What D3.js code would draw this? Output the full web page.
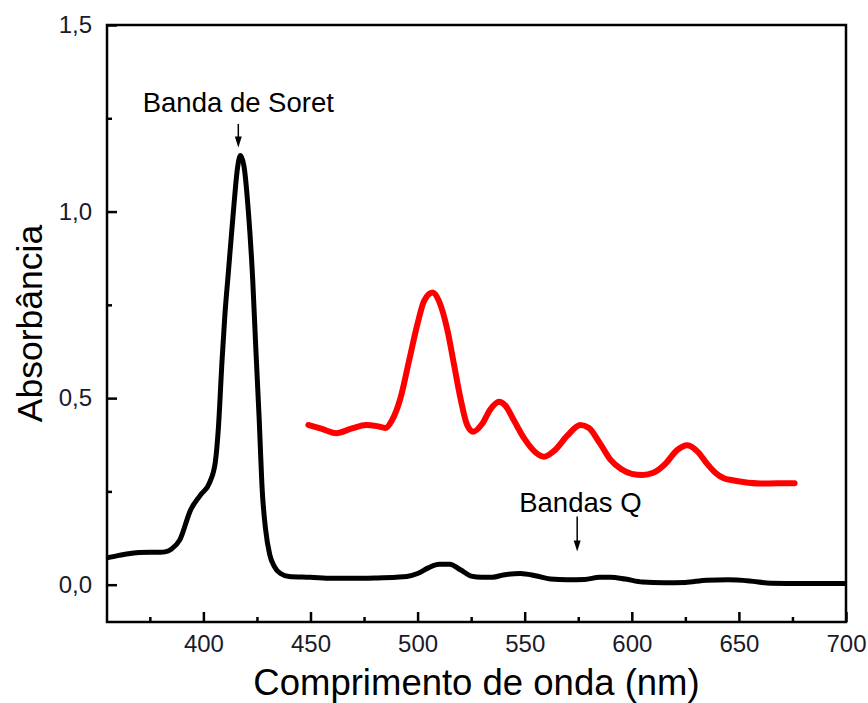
<!DOCTYPE html>
<html>
<head>
<meta charset="utf-8">
<script src="https://cdn.jsdelivr.net/npm/d3@7"></script>
<style>
  body { margin: 0; background: #fff; }
  svg { font-family: Arial, "Liberation Sans", sans-serif; }
</style>
</head>
<body>
<svg id="chart"></svg>
<script>
const width = 868;
const height = 703;

// Black spectrum (nm, absorbance)
const blackNm = [355, 360, 365, 370, 375, 380, 382, 385, 389, 394, 398.6, 403, 405.6, 407, 408.7, 410, 411.7, 414, 416, 417.3, 419, 421, 423, 424.5, 426, 427.5, 429, 431, 433, 436, 440, 450, 460, 470, 480, 490, 495, 500, 505, 510, 515, 520, 525, 530, 535, 540, 548, 555, 562, 570, 578, 585, 590, 597, 605, 615, 625, 635, 645, 655, 665, 680, 700];
const blackAbs = [0.072, 0.078, 0.083, 0.086, 0.087, 0.087, 0.088, 0.095, 0.12, 0.20, 0.24, 0.275, 0.33, 0.42, 0.6, 0.72, 0.84, 1.0, 1.12, 1.15, 1.12, 1.0, 0.82, 0.63, 0.45, 0.25, 0.15, 0.08, 0.05, 0.03, 0.022, 0.02, 0.017, 0.017, 0.018, 0.02, 0.022, 0.03, 0.045, 0.055, 0.055, 0.04, 0.023, 0.02, 0.02, 0.026, 0.03, 0.024, 0.015, 0.013, 0.014, 0.02, 0.02, 0.015, 0.007, 0.005, 0.006, 0.012, 0.013, 0.01, 0.004, 0.003, 0.003];

// Red spectrum (Q band region, enlarged)
const redNm = [449, 455, 462, 469, 476, 481, 485, 488, 492, 496, 500, 503, 507, 510, 514, 517, 520, 523, 526, 530, 534, 538, 541, 545, 550, 555, 559, 564, 570, 576, 580, 585, 590, 595, 600, 605, 610, 616, 621, 626, 631, 635, 639, 643, 647, 652, 660, 668, 676];
const redAbs = [0.428, 0.418, 0.406, 0.418, 0.428, 0.425, 0.42, 0.44, 0.50, 0.60, 0.70, 0.76, 0.783, 0.76, 0.68, 0.59, 0.50, 0.43, 0.41, 0.43, 0.47, 0.49, 0.48, 0.44, 0.39, 0.355, 0.343, 0.36, 0.40, 0.428, 0.42, 0.38, 0.335, 0.31, 0.297, 0.294, 0.30, 0.326, 0.36, 0.374, 0.355, 0.325, 0.30, 0.285, 0.28, 0.275, 0.271, 0.272, 0.272];

// Axis ticks
const xMajor = [400, 450, 500, 550, 600, 650, 700];
const xMinor = [375, 425, 475, 525, 575, 625, 675];
const yMajor = [0, 0.5, 1.0, 1.5];
const yMinor = [0.25, 0.75, 1.25];

// Annotations: label, arrow x (nm), arrow top / tip (absorbance), label baseline (absorbance)
const notes = [
  { text: "Banda de Soret", x: 416.3, top: 1.235, tip: 1.172, label: 1.267, lx: 416.3 },
  { text: "Bandas Q", x: 574.5, top: 0.183, tip: 0.089, label: 0.196, lx: 576 }
];

const margin = { top: 25, right: 22, bottom: 81, left: 107 };

const svg = d3.select("#chart")
    .attr("width", width)
    .attr("height", height);

const x = d3.scaleLinear().domain([355, 700]).range([margin.left, width - margin.right]);
const y = d3.scaleLinear().domain([-0.1, 1.5]).range([height - margin.bottom, margin.top]);

const fmt = d => d3.format(".1f")(d).replace(".", ",");

// Frame
svg.append("rect")
    .attr("x", x(355))
    .attr("y", y(1.5))
    .attr("width", x(700) - x(355))
    .attr("height", y(-0.1) - y(1.5))
    .attr("fill", "none")
    .attr("stroke", "#000")
    .attr("stroke-width", 2.5);

// Bottom axis
svg.append("g")
    .attr("transform", `translate(0,${y(-0.1)})`)
    .call(d3.axisBottom(x).tickValues(xMajor).tickSizeInner(-10).tickSizeOuter(0).tickPadding(13));
svg.append("g")
    .attr("transform", `translate(0,${y(-0.1)})`)
    .call(d3.axisBottom(x).tickValues(xMinor).tickSizeInner(-5).tickSizeOuter(0).tickFormat(""));

// Left axis
svg.append("g")
    .attr("transform", `translate(${x(355)},0)`)
    .call(d3.axisLeft(y).tickValues(yMajor).tickSizeInner(-10).tickSizeOuter(0).tickPadding(15).tickFormat(fmt));
svg.append("g")
    .attr("transform", `translate(${x(355)},0)`)
    .call(d3.axisLeft(y).tickValues(yMinor).tickSizeInner(-5).tickSizeOuter(0).tickFormat(""));

svg.selectAll(".domain").remove();
svg.selectAll(".tick line").attr("stroke", "#000").attr("stroke-width", 2.5);
svg.selectAll(".tick text")
    .attr("font-size", 24)
    .attr("fill", "#1a1a2a")
    .attr("font-family", "Arial, 'Liberation Sans', sans-serif");

// Axis titles
svg.append("text")
    .attr("x", (x(355) + x(700)) / 2)
    .attr("y", 695)
    .attr("text-anchor", "middle")
    .attr("font-size", 36.5)
    .text("Comprimento de onda (nm)");

svg.append("text")
    .attr("transform", `translate(42,${(y(-0.1) + y(1.5)) / 2}) rotate(-90)`)
    .attr("text-anchor", "middle")
    .attr("font-size", 35.5)
    .text("Absorbância");

// Curves
const line = d3.line()
    .x(d => x(d[0]))
    .y(d => y(d[1]))
    .curve(d3.curveMonotoneX);

svg.append("path")
    .datum(blackNm.map((v, i) => [v, blackAbs[i]]))
    .attr("d", line)
    .attr("fill", "none")
    .attr("stroke", "#000")
    .attr("stroke-width", 5)
    .attr("stroke-linejoin", "round");

svg.append("path")
    .datum(redNm.map((v, i) => [v, redAbs[i]]))
    .attr("d", line)
    .attr("fill", "none")
    .attr("stroke", "#ff0000")
    .attr("stroke-width", 6)
    .attr("stroke-linejoin", "round")
    .attr("stroke-linecap", "round");

// Annotations
notes.forEach(n => {
    svg.append("text")
        .attr("x", x(n.lx))
        .attr("y", y(n.label))
        .attr("text-anchor", "middle")
        .attr("font-size", 27.5)
        .text(n.text);
    const ax = x(n.x), ay0 = y(n.top), ay1 = y(n.tip);
    svg.append("line")
        .attr("x1", ax).attr("x2", ax)
        .attr("y1", ay0).attr("y2", ay1 - 6)
        .attr("stroke", "#000")
        .attr("stroke-width", 1.5);
    svg.append("path")
        .attr("d", `M${ax - 3.5},${ay1 - 11}L${ax + 3.5},${ay1 - 11}L${ax},${ay1}Z`)
        .attr("fill", "#000");
});
</script>
</body>
</html>
